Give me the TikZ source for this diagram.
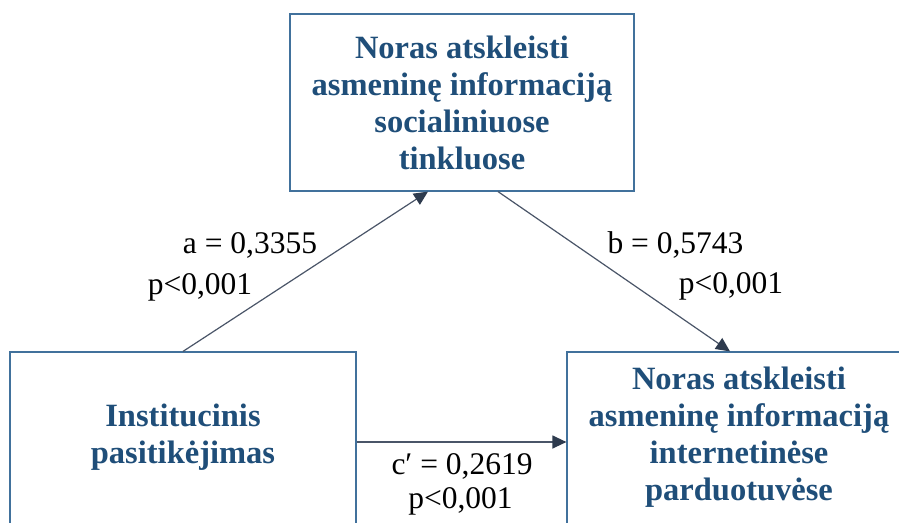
\documentclass[tikz,border=0pt]{standalone}
\usepackage{fontspec}
\setmainfont{Liberation Serif}
\usetikzlibrary{arrows.meta,calc}
\definecolor{txtblue}{HTML}{1F4E79}
\definecolor{boxblue}{HTML}{41719C}
\definecolor{linegray}{HTML}{4A5568}
\definecolor{tipnavy}{HTML}{2E3B4E}
\tikzset{
  varbox/.style={draw=boxblue, line width=1.2pt, inner sep=0pt},
  vartext/.style={align=center, text=txtblue,
    font=\fontsize{32.5}{37}\selectfont\bfseries, inner sep=0pt},
  conn/.style={draw=linegray, line width=1.2pt,
    -{Triangle[length=14pt,width=13pt,color=tipnavy,fill=tipnavy]}},
  coef/.style={anchor=base, inner sep=0pt, text=black,
    font=\fontsize{31.5}{36}\selectfont}
}
\begin{document}
\begin{tikzpicture}[x=1pt,y=-1pt]
\useasboundingbox (0,0) rectangle (899,522);
\clip (0,0) rectangle (899,522);
\fill[white] (0,0) rectangle (899,522);
\node[varbox, vartext, minimum width=344pt, minimum height=177pt] (tb) at (462,102.5)
  {Noras atskleisti\\asmeninę informaciją\\socialiniuose\\tinkluose};
\node[varbox, minimum width=346pt, minimum height=190pt] (lb) at (183,447) {};
\node[vartext] (lbt) at (183,437) {Institucinis\\pasitikėjimas};
\node[varbox, minimum width=344pt, minimum height=190pt] (rb) at (739,447) {};
\node[vartext] (rbt) at (739,437)
  {Noras atskleisti\\asmeninę informaciją\\internetinėse\\parduotuvėse};
\draw[conn] (lb.north) -- ($(tb.south)+(-34,0)$);
\draw[conn] ($(tb.south)+(36,0)$) -- ($(rb.north)+(-9,0)$);
\draw[conn] ($(lb.east)+(0,-5)$) -- ($(rb.west)+(0,-5)$);
\node[coef] (la1) at (250,253) {a = 0,3355};
\node[coef] (la2) at (200,294) {p<0,001};
\node[coef] (lb1) at (675.5,253) {b = 0,5743};
\node[coef] (lb2) at (731,293) {p<0,001};
\node[coef] (lc1) at (462,474) {c′ = 0,2619};
\node[coef] (lc2) at (460.5,508) {p<0,001};
\end{tikzpicture}
\end{document}
